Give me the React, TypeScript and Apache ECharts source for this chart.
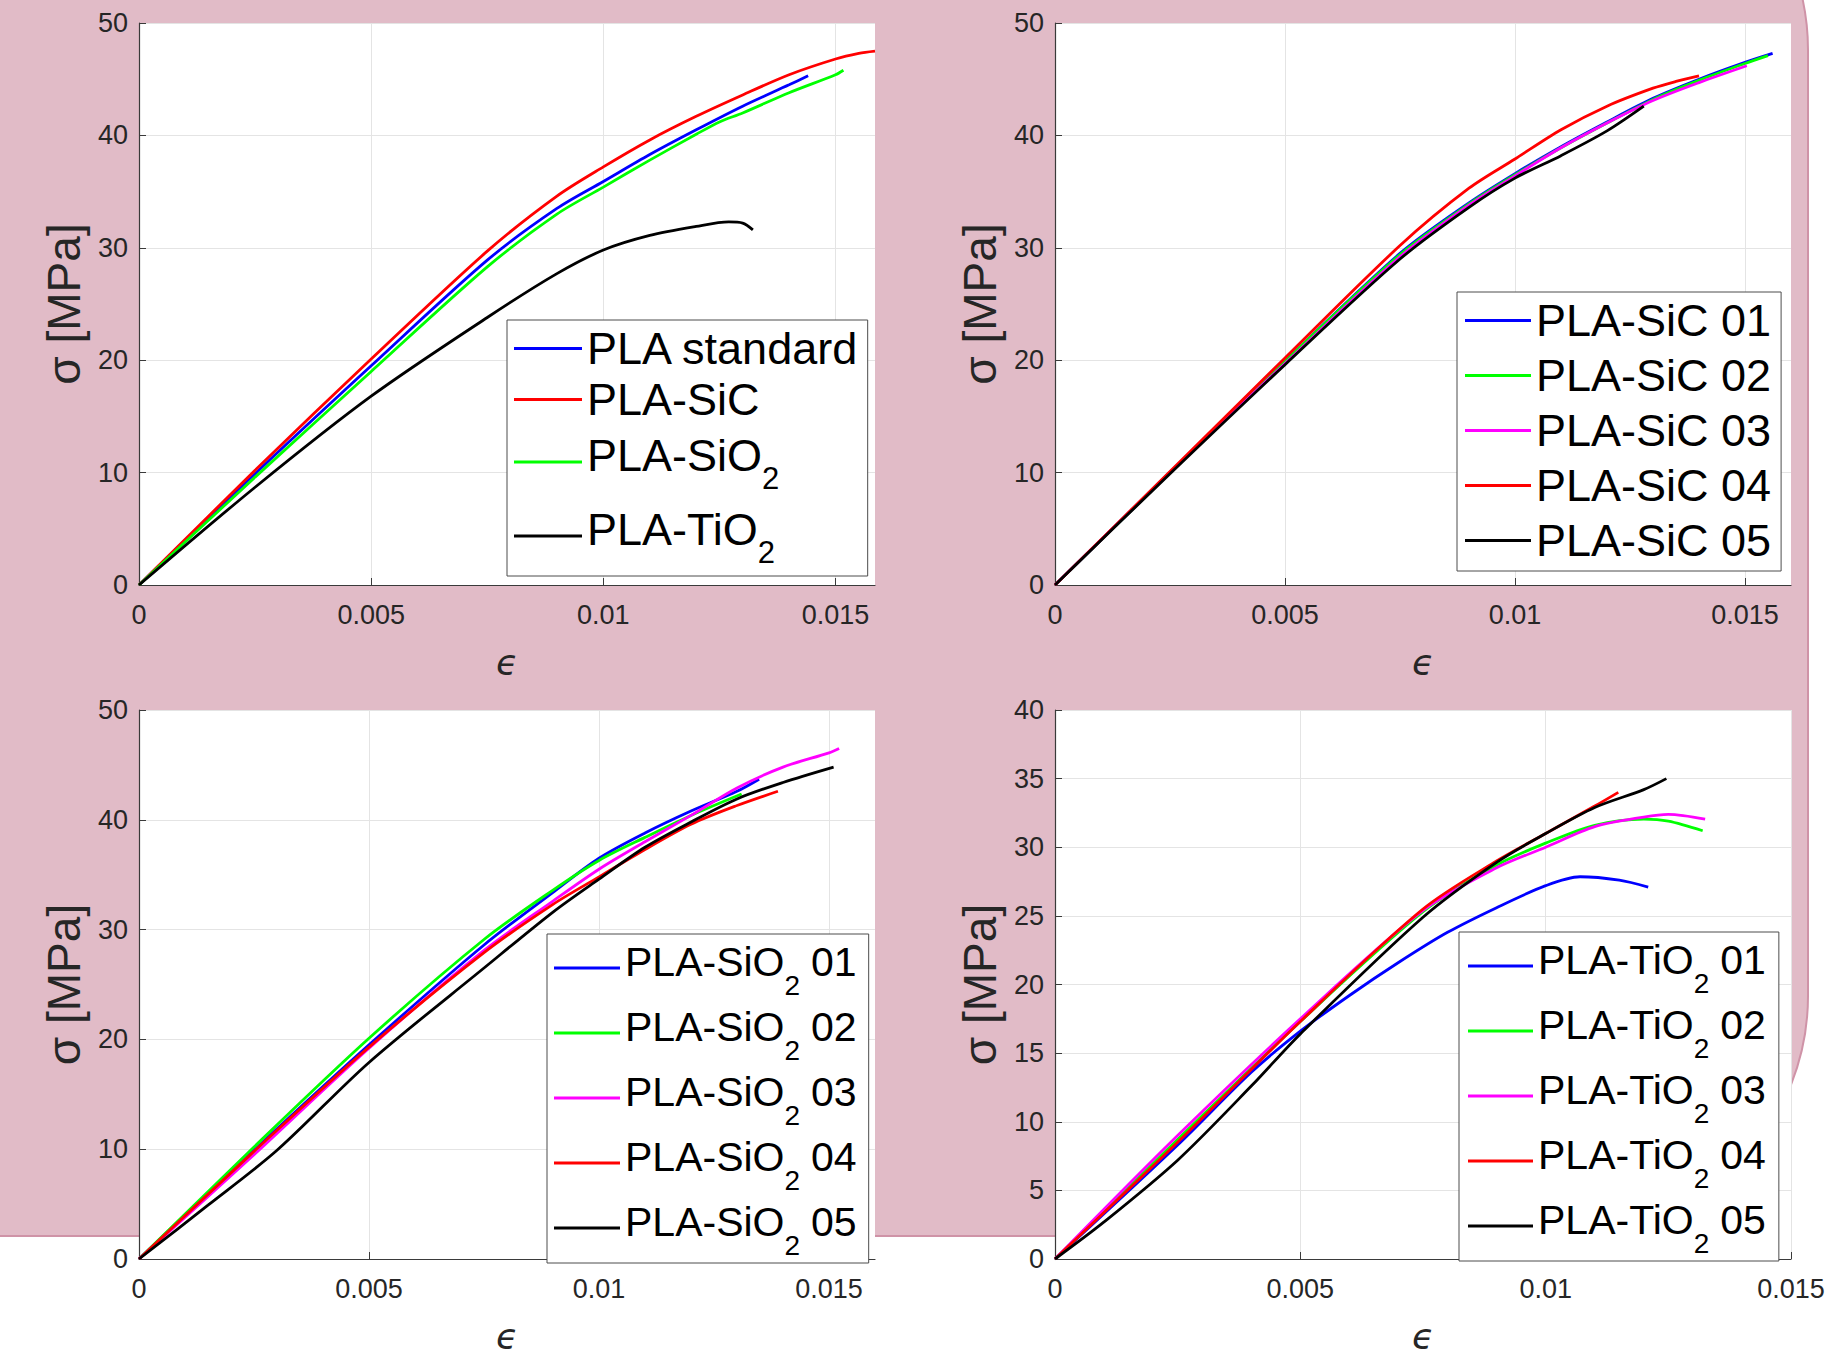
import React, { useEffect, useRef } from "react";
import * as echarts from "echarts";

const FONT = "'Liberation Sans', Arial, Helvetica, sans-serif";
const TEXT_GREY = "#262626";
const AXIS_GREY = "#3a3a3a";
const GRID_GREY = "#e4e4e4";

const C_BLUE = "#0000ff";
const C_RED = "#ff0000";
const C_GREEN = "#00ff00";
const C_MAGENTA = "#ff00ff";
const C_BLACK = "#000000";

// ---------- Panel A (top-left): material comparison ----------
const A_NAMES = ["PLA standard", "PLA-SiC", "PLA-SiO2", "PLA-TiO2"];
const A_COLORS = [C_BLUE, C_RED, C_GREEN, C_BLACK];
const A_STANDARD = [[0, 0], [0.0025, 9.9], [0.005, 19.5], [0.0075, 28.9], [0.009, 33.5], [0.01, 35.9], [0.011, 38.3], [0.012, 40.5], [0.013, 42.6], [0.014, 44.5], [0.01441, 45.3]];
const A_SIC = [[0, 0], [0.0025, 10.2], [0.005, 20.1], [0.0075, 29.7], [0.009, 34.6], [0.01, 37.2], [0.011, 39.6], [0.012, 41.7], [0.013, 43.6], [0.014, 45.4], [0.015, 46.8], [0.0155, 47.3], [0.01585, 47.5]];
const A_SIO2 = [[0, 0], [0.0025, 9.6], [0.005, 19.0], [0.0075, 28.3], [0.009, 33.0], [0.01, 35.4], [0.011, 37.8], [0.012, 40.1], [0.0125, 41.2], [0.013, 42.0], [0.014, 43.8], [0.015, 45.4], [0.01517, 45.8]];
const A_TIO2 = [[0, 0], [0.0025, 8.7], [0.005, 16.8], [0.0075, 23.8], [0.009, 27.7], [0.01, 29.8], [0.011, 31.1], [0.012, 31.9], [0.0127, 32.3], [0.013, 32.2], [0.01322, 31.6]];

// ---------- Panel B (top-right): PLA-SiC specimens ----------
const B_NAMES = ["PLA-SiC 01", "PLA-SiC 02", "PLA-SiC 03", "PLA-SiC 04", "PLA-SiC 05"];
const B_COLORS = [C_BLUE, C_GREEN, C_MAGENTA, C_RED, C_BLACK];
const B_01 = [[0, 0], [0.0025, 10.0], [0.005, 19.9], [0.0075, 29.5], [0.009, 34.0], [0.01, 36.6], [0.011, 39.0], [0.012, 41.2], [0.013, 43.3], [0.014, 45.0], [0.015, 46.5], [0.0156, 47.3]];
const B_02 = [[0, 0], [0.0025, 10.0], [0.005, 19.9], [0.0075, 29.4], [0.009, 33.9], [0.01, 36.5], [0.011, 38.9], [0.012, 41.1], [0.013, 43.2], [0.014, 44.9], [0.015, 46.4], [0.0155, 47.1]];
const B_03 = [[0, 0], [0.0025, 10.0], [0.005, 19.7], [0.0075, 29.2], [0.009, 33.8], [0.01, 36.4], [0.011, 38.9], [0.012, 41.1], [0.013, 43.1], [0.014, 44.7], [0.01504, 46.2]];
const B_04 = [[0, 0], [0.0025, 10.1], [0.005, 20.2], [0.0075, 30.2], [0.009, 35.3], [0.01, 37.9], [0.011, 40.5], [0.012, 42.6], [0.013, 44.2], [0.0135, 44.8], [0.014, 45.3]];
const B_05 = [[0, 0], [0.0025, 9.9], [0.005, 19.6], [0.0075, 29.0], [0.009, 33.6], [0.01, 36.2], [0.011, 38.2], [0.012, 40.4], [0.0128, 42.6]];

// ---------- Panel C (bottom-left): PLA-SiO2 specimens ----------
const C_NAMES = ["PLA-SiO2 01", "PLA-SiO2 02", "PLA-SiO2 03", "PLA-SiO2 04", "PLA-SiO2 05"];
const C_COLORS = [C_BLUE, C_GREEN, C_MAGENTA, C_RED, C_BLACK];
const C_01 = [[0, 0], [0.0025, 9.9], [0.005, 19.5], [0.0075, 28.6], [0.009, 33.4], [0.01, 36.5], [0.011, 38.8], [0.012, 40.8], [0.013, 42.6], [0.01348, 43.7]];
const C_02 = [[0, 0], [0.0025, 10.2], [0.005, 20.1], [0.0075, 29.1], [0.009, 33.6], [0.01, 36.3], [0.011, 38.4], [0.012, 40.4], [0.0131, 42.35]];
const C_03 = [[0, 0], [0.0025, 9.5], [0.005, 19.2], [0.0075, 28.1], [0.009, 32.6], [0.01, 35.5], [0.011, 38.0], [0.012, 40.4], [0.013, 42.9], [0.014, 44.8], [0.015, 46.1], [0.01522, 46.5]];
const C_04 = [[0, 0], [0.0025, 9.8], [0.005, 19.3], [0.0075, 27.9], [0.009, 32.3], [0.01, 34.8], [0.011, 37.3], [0.012, 39.6], [0.013, 41.3], [0.01389, 42.6]];
const C_05 = [[0, 0], [0.0015, 4.9], [0.003, 9.9], [0.005, 17.9], [0.0075, 26.5], [0.009, 31.6], [0.01, 34.6], [0.011, 37.5], [0.012, 39.8], [0.013, 41.9], [0.014, 43.4], [0.0151, 44.8]];

// ---------- Panel D (bottom-right): PLA-TiO2 specimens ----------
const D_NAMES = ["PLA-TiO2 01", "PLA-TiO2 02", "PLA-TiO2 03", "PLA-TiO2 04", "PLA-TiO2 05"];
const D_COLORS = [C_BLUE, C_GREEN, C_MAGENTA, C_RED, C_BLACK];
const D_01 = [[0, 0], [0.0025, 8.3], [0.004, 13.6], [0.005, 16.6], [0.006, 19.2], [0.007, 21.6], [0.008, 23.8], [0.009, 25.6], [0.01, 27.2], [0.0107, 27.85], [0.0115, 27.6], [0.01209, 27.1]];
const D_02 = [[0, 0], [0.0025, 8.7], [0.005, 17.3], [0.0075, 25.3], [0.009, 28.7], [0.01, 30.3], [0.011, 31.6], [0.012, 32.05], [0.0125, 31.9], [0.0132, 31.2]];
const D_03 = [[0, 0], [0.0025, 9.0], [0.005, 17.5], [0.0075, 25.4], [0.009, 28.5], [0.01, 30.0], [0.011, 31.5], [0.012, 32.2], [0.0125, 32.4], [0.01325, 32.05]];
const D_04 = [[0, 0], [0.0025, 8.5], [0.005, 17.3], [0.0075, 25.5], [0.009, 29.0], [0.01, 31.0], [0.011, 33.0], [0.01148, 34.0]];
const D_05 = [[0, 0], [0.001, 2.7], [0.0025, 7.2], [0.004, 12.6], [0.005, 16.4], [0.0075, 24.9], [0.009, 28.9], [0.01, 31.0], [0.011, 32.9], [0.012, 34.2], [0.01246, 35.0]];

// axis extents / tick steps
const X_MAX = [0.01585, 0.016, 0.016, 0.015];
const Y_MAX = [50, 50, 50, 40];
const Y_STEP = [10, 10, 10, 5];
const X_STEP = 0.005;
const X_NAME = "ϵ";
const Y_NAME = "σ [MPa]";

const PANELS = [
  { names: A_NAMES, colors: A_COLORS, data: [A_STANDARD, A_SIC, A_SIO2, A_TIO2] },
  { names: B_NAMES, colors: B_COLORS, data: [B_01, B_02, B_03, B_04, B_05] },
  { names: C_NAMES, colors: C_COLORS, data: [C_01, C_02, C_03, C_04, C_05] },
  { names: D_NAMES, colors: D_COLORS, data: [D_01, D_02, D_03, D_04, D_05] },
];

const GRIDS = [
  { left: 139, top: 23, width: 736, height: 562 },
  { left: 1055, top: 23, width: 736, height: 562 },
  { left: 139, top: 710, width: 736, height: 560 },
  { left: 1055, top: 710, width: 736, height: 560 },
];

function richName(name: string): string {
  const m = name.match(/^(PLA-(?:Si|Ti)O)2(?: (\d+))?$/);
  if (!m) return `{p|${name}}`;
  return `{m|${m[1]}}{s|2}` + (m[2] ? `{n|${m[2]}}` : "");
}

function makeRich(big: number, small: number, plainLH: number, subLH: number, mainPadBottom: number, subPad: number[], numGap: number) {
  return {
    p: { fontSize: big, fontFamily: FONT, color: "#000", lineHeight: plainLH },
    m: { fontSize: big, fontFamily: FONT, color: "#000", lineHeight: subLH, padding: [0, 0, mainPadBottom, 0] },
    s: { fontSize: small, fontFamily: FONT, color: "#000", lineHeight: subLH, padding: [subPad[0], 0, subPad[1], 0] },
    n: { fontSize: big, fontFamily: FONT, color: "#000", lineHeight: subLH, padding: [0, 0, mainPadBottom, numGap] },
  };
}

const LEGENDS = [
  { left: 507, top: 320, padding: [6, 8, 6, 7], itemGap: 6, itemWidth: 68, rich: makeRich(45, 31, 45, 68, 14, [35, 2], 12) },
  { left: 1457, top: 292, padding: [6, 10, 8, 8], itemGap: 10, itemWidth: 66, rich: makeRich(45, 31, 45, 68, 14, [35, 2], 12) },
  { left: 547, top: 934, padding: [3, 12, 4, 7], itemGap: 3, itemWidth: 66, rich: makeRich(41, 28, 41, 62, 12, [34, 0], 11) },
  { left: 1459, top: 932, padding: [3, 13, 4, 9], itemGap: 3, itemWidth: 65, rich: makeRich(41, 28, 41, 62, 12, [34, 0], 11) },
];

function buildOption() {
  const grid = GRIDS.map((g) => ({
    ...g,
    show: true,
    backgroundColor: "#ffffff",
    borderWidth: 0,
  }));

  const xAxis = GRIDS.map((_, i) => {
    const hideMax = Math.abs(X_MAX[i] / X_STEP - Math.round(X_MAX[i] / X_STEP)) > 1e-6;
    return {
      type: "value",
      gridIndex: i,
      min: 0,
      max: X_MAX[i],
      interval: X_STEP,
      name: X_NAME,
      nameLocation: "middle",
      nameGap: 59,
      nameTextStyle: { fontSize: 36, fontStyle: "italic", fontFamily: "'DejaVu Sans', sans-serif", color: TEXT_GREY },
      axisLine: { show: true, onZero: false, lineStyle: { color: AXIS_GREY, width: 1.2 } },
      axisTick: { show: true, inside: true, length: 7, lineStyle: { color: AXIS_GREY, width: 1 } },
      axisLabel: { fontSize: 27, color: TEXT_GREY, fontFamily: FONT, margin: 16, showMaxLabel: !hideMax, showMinLabel: true },
      splitLine: { show: true, showMaxLine: !hideMax, lineStyle: { color: GRID_GREY, width: 1 } },
    };
  });

  const yAxis = GRIDS.map((_, i) => ({
    type: "value",
    gridIndex: i,
    min: 0,
    max: Y_MAX[i],
    interval: Y_STEP[i],
    name: Y_NAME,
    nameLocation: "middle",
    nameGap: 52,
    nameTextStyle: { fontSize: 46, fontFamily: FONT, color: TEXT_GREY },
    axisLine: { show: true, onZero: false, lineStyle: { color: AXIS_GREY, width: 1.2 } },
    axisTick: { show: true, inside: true, length: 7, lineStyle: { color: AXIS_GREY, width: 1 } },
    axisLabel: { fontSize: 27, color: TEXT_GREY, fontFamily: FONT, margin: 11 },
    splitLine: { show: true, lineStyle: { color: GRID_GREY, width: 1 } },
  }));

  const series: any[] = [];
  PANELS.forEach((p, gi) => {
    p.names.forEach((name, k) => {
      series.push({
        type: "line",
        name,
        xAxisIndex: gi,
        yAxisIndex: gi,
        data: p.data[k],
        symbol: "none",
        showSymbol: false,
        smooth: 0.3,
        clip: true,
        lineStyle: { color: p.colors[k], width: 2.8 },
        itemStyle: { color: p.colors[k] },
        emphasis: { disabled: true },
        z: 3,
      });
    });
  });

  const legend = LEGENDS.map((l, i) => ({
    data: PANELS[i].names,
    orient: "vertical",
    left: l.left,
    top: l.top,
    padding: l.padding,
    itemGap: l.itemGap,
    itemWidth: l.itemWidth,
    itemHeight: 3,
    icon: "rect",
    selectedMode: false,
    backgroundColor: "#ffffff",
    borderColor: "#4d4d4d",
    borderWidth: 1,
    borderRadius: 0,
    itemStyle: { borderWidth: 0 },
    formatter: (name: string) => richName(name),
    textStyle: { color: "#000", fontFamily: FONT, fontSize: 45, rich: l.rich },
    z: 5,
  }));

  return {
    animation: false,
    backgroundColor: "transparent",
    graphic: [
      {
        type: "rect",
        z: -10,
        silent: true,
        shape: { x: -50, y: -190, width: 1858, height: 1426, r: [0, 240, 240, 0] },
        style: { fill: "#e1bbc7", stroke: "#cf93a7", lineWidth: 2 },
      },
    ],
    grid,
    xAxis,
    yAxis,
    legend,
    series,
  };
}

export default function App() {
  const ref = useRef<HTMLDivElement | null>(null);
  useEffect(() => {
    if (!ref.current) return;
    const chart = echarts.init(ref.current, undefined, { renderer: "svg" });
    chart.setOption(buildOption() as any);
    return () => chart.dispose();
  }, []);
  return (
    <div
      ref={ref}
      style={{ position: "fixed", left: 0, top: 0, width: 1838, height: 1355, background: "#ffffff" }}
    />
  );
}
